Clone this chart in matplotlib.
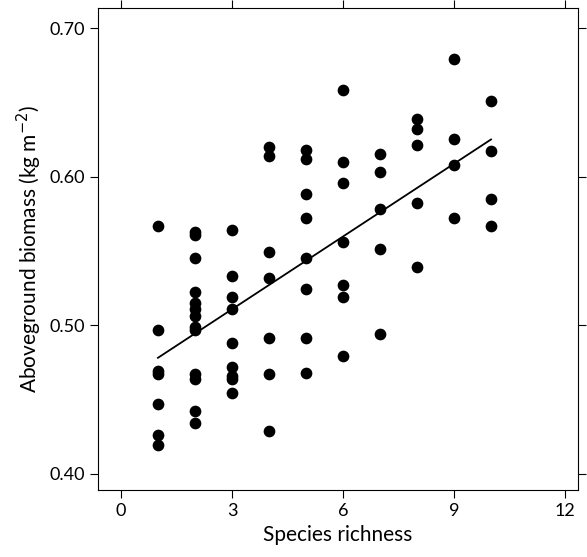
import matplotlib
matplotlib.use("Agg")
import matplotlib.pyplot as plt
import numpy as np

plt.rcParams['font.family'] = ['Lato', 'DejaVu Sans']

richness = {
    1: [0.567, 0.497, 0.469, 0.467, 0.447, 0.426, 0.419],
    2: [0.563, 0.561, 0.545, 0.522, 0.515, 0.511, 0.506, 0.499, 0.497, 0.467, 0.464, 0.442, 0.434],
    3: [0.564, 0.533, 0.519, 0.511, 0.488, 0.472, 0.466, 0.464, 0.454],
    4: [0.620, 0.614, 0.549, 0.532, 0.491, 0.467, 0.429],
    5: [0.618, 0.612, 0.588, 0.572, 0.545, 0.524, 0.491, 0.468],
    6: [0.658, 0.610, 0.596, 0.556, 0.527, 0.519, 0.479],
    7: [0.615, 0.603, 0.578, 0.551, 0.494],
    8: [0.639, 0.632, 0.621, 0.582, 0.539],
    9: [0.679, 0.625, 0.608, 0.572],
    10: [0.651, 0.617, 0.585, 0.567],
}
line_x = [1, 10]
line_y = [0.478, 0.625]

xs = np.concatenate([[k] * len(v) for k, v in richness.items()])
ys = np.concatenate(list(richness.values()))

fig = plt.figure(figsize=(5.87, 5.57), dpi=100)
ax = fig.add_axes([98/587, 67/557, 480/587, 482/557])
ax.scatter(xs, ys, s=55, color='black', zorder=3)
ax.plot(line_x, line_y, color='black', lw=1.3)
ax.set_xlim(-0.62, 12.35)
ax.set_ylim(0.389, 0.7135)
ax.set_xticks([0, 3, 6, 9, 12])
ax.set_yticks([0.40, 0.50, 0.60, 0.70])
ax.set_yticklabels(['0.40', '0.50', '0.60', '0.70'])
ax.tick_params(direction='out', length=6, labelsize=13, top=True, right=True, labeltop=False, labelright=False)
ax.set_xlabel('Species richness', fontsize=15)
ax.set_ylabel('Aboveground biomass (kg m$^{-2}$)', fontsize=15)
fig.savefig('out.png', dpi=100)
